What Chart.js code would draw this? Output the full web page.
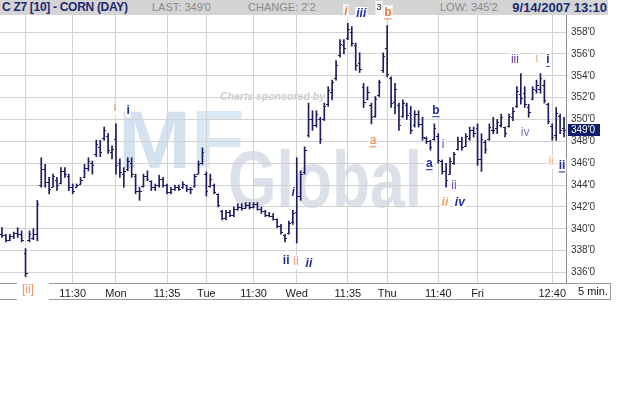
<!DOCTYPE html>
<html>
<head>
<meta charset="utf-8">
<title>C Z7 [10] - CORN (DAY)</title>
<script src="https://cdn.jsdelivr.net/npm/chart.js@4.4.1/dist/chart.umd.min.js"></script>
<style>
    body { margin: 0; width: 619px; height: 403px; background: #fff; position: relative; overflow: hidden; font-family: "Liberation Sans", Arial, sans-serif; }
    #head { position: absolute; left: 0; top: 0; width: 608px; height: 15px; background: #d4d4d4; }
    #head span { position: absolute; top: 0; line-height: 15px; white-space: nowrap; }
    #head .title { left: 2px; font-weight: bold; font-size: 12px; color: #1b2a72; letter-spacing: -0.3px; }
    #head .stat { font-size: 11px; color: #8a8a8a; }
    #head .stamp { right: 1px; font-weight: bold; font-size: 13px; color: #1b2a72; }
    #chart { position: absolute; left: 0; top: 0; z-index: 1; }
</style>
</head>
<body>
<div id="head">
    <span class="title">C Z7 [10] - CORN (DAY)</span>
    <span class="stat" style="left:152px">LAST: 349'0</span>
    <span class="stat" style="left:248px">CHANGE: 2'2</span>
    <span class="stat" style="left:440px">LOW: 345'2</span>
    <span class="stamp">9/14/2007 13:10</span>
</div>
<canvas id="chart" width="619" height="403"></canvas>
<script>
// 10 minute bars, Thu 6 Sep (last bars) to Fri 14 Sep 2007
const opens = [
    339.5, 339.4, 339.0, 339.3, 339.6, 339.5, 337.8, 339.0, 339.2, 339.5,
    344.0, 345.5, 344.3, 343.8, 344.5, 344.2, 345.3, 344.8, 343.8, 343.8,
    344.1, 344.7, 345.6, 346.0, 346.8, 347.5, 348.3, 348.5, 347.0, 348.2,
    346.0, 345.0, 345.5, 346.0, 344.8, 343.5, 343.9, 344.8, 344.4, 343.8,
    344.0, 344.6, 344.0, 343.4, 343.6, 343.8, 343.8, 344.0, 343.6, 343.9,
    345.0, 346.0, 345.0, 343.9, 344.0, 343.2, 341.6, 341.0, 341.5, 341.3,
    341.8, 342.0, 341.9, 342.2, 342.0, 342.3, 341.8, 341.6, 341.3, 341.2,
    340.9, 340.3, 339.4, 339.6, 340.6, 341.5, 343.0, 345.2, 348.6, 350.0,
    349.5, 350.0, 350.0, 351.4, 352.5, 353.8, 355.9, 356.8, 357.5, 358.0,
    356.8, 355.2, 353.0, 351.9, 351.3, 350.3, 352.2, 354.5, 356.5, 353.8,
    351.6, 351.3, 350.3, 351.3, 350.6, 349.5, 350.5, 349.6, 348.3, 348.0,
    348.2, 348.5, 346.2, 345.3, 345.0, 346.0, 347.3, 348.0, 347.6, 348.3,
    349.0, 349.2, 346.4, 347.9, 348.2, 349.0, 349.2, 349.5, 349.3, 349.4,
    350.2, 351.2, 352.3, 352.4, 351.1, 351.9, 352.7, 352.8, 353.2, 351.4,
    349.4, 348.6, 350.3, 349.2
];
const highs = [
    340.1, 339.5, 339.5, 339.7, 340.1, 339.8, 338.2, 339.8, 340.0, 342.6,
    346.5, 345.9, 344.7, 345.0, 344.7, 345.6, 345.6, 345.0, 344.1, 344.1,
    344.7, 345.9, 346.5, 346.2, 348.1, 348.1, 349.3, 348.7, 347.6, 349.6,
    346.4, 345.6, 346.5, 346.5, 345.0, 343.8, 345.0, 345.3, 344.4, 344.1,
    344.9, 344.7, 344.1, 343.8, 344.0, 344.0, 344.3, 344.0, 343.8, 345.0,
    346.2, 347.4, 345.2, 345.0, 344.1, 343.2, 341.7, 341.7, 341.7, 342.0,
    342.3, 342.3, 342.4, 342.4, 342.4, 342.4, 342.0, 341.7, 341.5, 341.4,
    340.9, 340.4, 339.5, 340.7, 341.7, 346.5, 345.3, 347.5, 351.5, 350.8,
    350.8, 350.2, 351.5, 353.0, 353.6, 355.4, 357.3, 357.3, 358.8, 358.5,
    357.0, 356.1, 353.3, 353.0, 351.5, 352.1, 353.6, 356.1, 358.6, 353.9,
    353.3, 351.5, 351.8, 351.5, 351.2, 350.8, 350.8, 350.2, 348.4, 348.1,
    349.6, 348.7, 346.3, 346.0, 346.5, 347.0, 348.4, 348.4, 348.7, 349.3,
    349.3, 349.6, 348.7, 348.1, 349.6, 350.2, 350.0, 350.5, 349.3, 350.5,
    351.1, 353.0, 354.2, 353.0, 351.4, 353.0, 353.6, 354.2, 353.6, 351.5,
    349.6, 351.1, 350.5, 350.2
];
const lows = [
    339.2, 338.8, 338.9, 339.1, 339.2, 338.8, 335.6, 338.8, 339.0, 338.9,
    343.8, 343.8, 343.2, 343.8, 343.5, 344.1, 344.7, 343.5, 343.2, 343.8,
    344.1, 344.7, 345.3, 345.0, 346.6, 346.6, 348.1, 346.9, 346.4, 345.0,
    344.7, 343.8, 345.3, 344.7, 343.2, 342.6, 343.8, 344.4, 343.5, 343.5,
    343.8, 343.8, 343.2, 343.2, 343.5, 343.5, 343.7, 343.4, 343.2, 343.8,
    345.0, 345.9, 343.0, 343.8, 343.2, 342.0, 340.8, 340.8, 341.1, 341.1,
    341.7, 341.7, 341.9, 341.8, 341.9, 341.7, 341.4, 341.1, 341.1, 340.8,
    340.1, 339.5, 338.8, 339.5, 340.4, 338.7, 342.6, 345.0, 348.4, 349.0,
    349.3, 347.8, 349.9, 351.2, 351.8, 353.6, 355.7, 356.0, 357.3, 356.7,
    354.5, 354.3, 351.1, 351.8, 349.6, 350.2, 352.1, 354.3, 353.9, 351.1,
    350.5, 349.0, 350.2, 350.0, 348.7, 349.3, 349.3, 348.1, 347.8, 347.2,
    348.1, 346.0, 345.0, 343.8, 345.0, 345.9, 347.2, 347.2, 347.5, 348.1,
    348.4, 345.8, 345.25, 346.9, 348.1, 348.7, 348.7, 349.3, 348.4, 349.3,
    349.9, 351.1, 351.4, 351.1, 350.2, 351.8, 352.4, 352.4, 351.5, 349.6,
    348.1, 348.1, 348.7, 348.4
];
const closes = [
    339.4, 339.0, 339.3, 339.6, 339.5, 339.0, 336.0, 339.5, 339.5, 342.3,
    345.5, 344.3, 343.6, 344.8, 344.0, 345.3, 345.0, 343.8, 343.5, 344.0,
    344.5, 345.6, 346.2, 345.8, 347.8, 347.0, 349.0, 347.2, 347.3, 345.8,
    345.2, 345.3, 346.2, 345.0, 343.5, 343.5, 344.8, 344.6, 343.8, 344.0,
    344.6, 344.0, 343.4, 343.6, 343.8, 343.6, 344.1, 343.6, 343.6, 344.8,
    345.9, 347.0, 343.5, 344.6, 343.4, 342.2, 341.0, 341.5, 341.3, 341.8,
    342.0, 341.9, 342.2, 342.0, 342.3, 341.8, 341.6, 341.3, 341.2, 340.9,
    340.3, 339.7, 339.2, 340.5, 341.4, 343.0, 345.0, 347.2, 350.0, 349.5,
    350.5, 348.2, 351.2, 352.7, 353.4, 355.0, 356.9, 356.5, 358.3, 357.0,
    355.0, 354.6, 351.6, 352.5, 350.2, 351.9, 353.4, 355.8, 354.2, 351.5,
    352.8, 349.5, 351.5, 350.4, 349.0, 350.5, 349.6, 348.4, 348.0, 347.5,
    349.2, 346.3, 345.3, 344.5, 346.2, 346.8, 348.0, 347.5, 348.5, 349.0,
    348.8, 346.4, 348.2, 347.3, 349.3, 349.0, 349.8, 350.2, 348.8, 350.3,
    350.8, 352.6, 352.0, 351.4, 350.7, 352.8, 353.2, 353.8, 351.8, 349.9,
    348.4, 350.6, 349.0, 349.0
];
const barIndex = opens.map( ( o, i ) => i );
const lastPrice = 349.0;

// axis ticks
const xTickIdx = [6, 18, 29, 42, 52, 64, 75, 88, 98, 111, 121, 140];
const xTickText = ["", "11:30", "Mon", "11:35", "Tue", "11:30", "Wed", "11:35", "Thu", "11:40", "Fri", "12:40"];
const yTicks = [336, 338, 340, 342, 344, 346, 348, 350, 352, 354, 356, 358];

// wave count labels, anchored at bar index / price
const orange = "#ef7a3c", blue = "#1d2c9e", purple = "#7b3fae", lilac = "#8a6cc6", salmon = "#f2a489";
const waveNotes = [
    { k: 6.6, p: 334.45, t: "[ii]", c: "#f0946a", s: "", box: [-11, 20] },
    { k: 28.8, p: 351.05, t: "i", c: orange, s: "" },
    { k: 32.1, p: 350.8, t: "i", c: blue, s: "b" },
    { k: 72.3, p: 337.05, t: "ii", c: blue, s: "b" },
    { k: 74.8, p: 336.95, t: "ii", c: "#f4906a", s: "" },
    { k: 78.1, p: 336.85, t: "ii", c: blue, s: "bi" },
    { k: 74.1, p: 343.3, t: "i", c: blue, s: "bi" },
    { k: 94.4, p: 348.1, t: "a", c: orange, s: "u" },
    { k: 87.5, p: 359.9, t: "i", c: orange, s: "bi" },
    { k: 91.4, p: 359.65, t: "iii", c: blue, s: "bi" },
    { k: 95.9, p: 360.2, t: "3", c: "#222", s: "", size: 9 },
    { k: 98.2, p: 359.8, t: "b", c: orange, s: "bu" },
    { k: 110.4, p: 350.85, t: "b", c: blue, s: "bu" },
    { k: 108.7, p: 346.0, t: "a", c: blue, s: "bu" },
    { k: 112.2, p: 347.65, t: "i", c: purple, s: "" },
    { k: 115.0, p: 343.9, t: "ii", c: purple, s: "" },
    { k: 112.7, p: 342.35, t: "ii", c: "#f0a070", s: "bi" },
    { k: 116.5, p: 342.35, t: "iv", c: blue, s: "bi" },
    { k: 130.5, p: 355.45, t: "iii", c: "#6a3aa0", s: "" },
    { k: 136.1, p: 355.55, t: "i", c: salmon, s: "" },
    { k: 138.9, p: 355.45, t: "i", c: blue, s: "bu" },
    { k: 133.1, p: 348.75, t: "iv", c: lilac, s: "" },
    { k: 139.7, p: 346.1, t: "ii", c: salmon, s: "" },
    { k: 142.5, p: 345.8, t: "ii", c: blue, s: "bu" }
];

const family = '"Liberation Sans", Arial, sans-serif';
const barColor = "#1c1c5e";
const gridColor = "#d2d2d2";

// sponsor watermark behind the grid
const watermark = {
    id: "watermark",
    beforeDraw( chart ) {
        const ctx = chart.ctx;
        ctx.save();
        ctx.textBaseline = "alphabetic";
        ctx.font = "bold 82px " + family;
        ctx.fillStyle = "#d4e1ee";
        ctx.save();
        ctx.translate( 118, 168 );
        ctx.scale( 1.07, 1 );
        ctx.fillText( "M", 0, 0 );
        ctx.fillStyle = "#d9e8f3";
        ctx.fillText( "F", ctx.measureText( "M" ).width, 0 );
        ctx.restore();
        ctx.font = "bold 80px " + family;
        ctx.fillStyle = "#dbe0e9";
        ctx.save();
        ctx.translate( 228, 207 );
        ctx.scale( 0.78, 1 );
        ctx.fillText( "Global", 0, 0 );
        ctx.restore();
        ctx.font = "italic bold 10.5px " + family;
        ctx.fillStyle = "#cbcbcb";
        ctx.fillText( "Charts sponsored by", 220, 100 );
        ctx.restore();
    }
};

// open / close ticks of each bar
const ohlcTicks = {
    id: "ohlcTicks",
    afterDatasetsDraw( chart ) {
        const { ctx, scales: { x, y } } = chart;
        ctx.save();
        ctx.strokeStyle = barColor;
        ctx.lineWidth = 1;
        ctx.beginPath();
        opens.forEach( ( o, i ) => {
            const px = Math.round( x.getPixelForValue( i ) );
            const yo = Math.round( y.getPixelForValue( o ) ) + 0.5;
            const yc = Math.round( y.getPixelForValue( closes[i] ) ) + 0.5;
            ctx.moveTo( px - 2, yo );
            ctx.lineTo( px, yo );
            ctx.moveTo( px, yc );
            ctx.lineTo( px + 2, yc );
        } );
        ctx.stroke();
        ctx.restore();
    }
};

// bottom frame, interval label and last price marker
const frame = {
    id: "frame",
    afterDraw( chart ) {
        const { ctx, chartArea: area, scales: { y } } = chart;
        ctx.save();
        ctx.strokeStyle = "#9a9a9a";
        ctx.lineWidth = 1;
        ctx.beginPath();
        ctx.moveTo( area.right, area.bottom + 0.5 );
        ctx.lineTo( 610, area.bottom + 0.5 );
        ctx.moveTo( 0, area.bottom + 16.5 );
        ctx.lineTo( 610.5, area.bottom + 16.5 );
        ctx.moveTo( 610.5, area.bottom );
        ctx.lineTo( 610.5, area.bottom + 17 );
        ctx.stroke();

        ctx.font = "11px " + family;
        ctx.fillStyle = "#1a1a1a";
        ctx.textBaseline = "middle";
        ctx.fillText( "5 min.", 578, area.bottom + 9 );

        const py = Math.round( y.getPixelForValue( lastPrice ) );
        ctx.fillStyle = "#0d1c6c";
        ctx.fillRect( area.right + 2, py - 6, 32, 12 );
        ctx.font = "10px " + family;
        ctx.fillStyle = "#fff";
        ctx.fillText( "349'0", area.right + 5, py );
        ctx.restore();
    }
};

// elliott wave labels
const notes = {
    id: "notes",
    afterDraw( chart ) {
        const { ctx, scales: { x, y } } = chart;
        ctx.save();
        ctx.textAlign = "center";
        ctx.textBaseline = "middle";
        waveNotes.forEach( n => {
            const px = x.getPixelForValue( n.k );
            const py = y.getPixelForValue( n.p );
            ctx.font = ( n.s.includes( "i" ) ? "italic " : "" ) + ( n.s.includes( "b" ) ? "bold " : "" ) + ( n.size || 12 ) + "px " + family;
            const w = ctx.measureText( n.t ).width;
            ctx.fillStyle = "#fff";
            if ( n.box ) {
                ctx.fillRect( px + n.box[0], py - 12, w + n.box[1], 26 );
            } else {
                ctx.fillRect( px - w / 2 - 1, py - 7, w + 2, 14 );
            }
            ctx.fillStyle = n.c;
            ctx.fillText( n.t, px, py );
            if ( n.s.includes( "u" ) ) {
                ctx.fillRect( px - w / 2, py + 6, w, 1 );
            }
        } );
        ctx.restore();
    }
};

new Chart( document.getElementById( "chart" ), {
    type: "bar",
    data: {
        labels: barIndex,
        datasets: [{
            data: lows.map( ( l, i ) => [l, highs[i]] ),
            backgroundColor: barColor,
            barThickness: 1,
            borderWidth: 0
        }]
    },
    options: {
        responsive: false,
        animation: false,
        events: [],
        layout: { padding: { top: 15, left: 0, right: 9, bottom: 104 } },
        plugins: {
            legend: { display: false },
            tooltip: { enabled: false }
        },
        scales: {
            x: {
                grid: { color: gridColor, offset: false, drawTicks: false },
                border: { color: "#9a9a9a" },
                afterBuildTicks: s => { s.ticks = xTickIdx.map( v => ( { value: v } ) ); },
                afterFit: s => { s.height = 16; },
                ticks: {
                    autoSkip: false,
                    maxRotation: 0,
                    padding: 4,
                    color: "#1a1a1a",
                    font: { family: family, size: 11 },
                    callback: v => xTickText[xTickIdx.indexOf( v )]
                }
            },
            y: {
                position: "right",
                min: 335.04,
                max: 359.56,
                grid: { color: gridColor, drawTicks: false },
                border: { color: "#8a8a8a" },
                afterBuildTicks: s => { s.ticks = yTicks.map( v => ( { value: v } ) ); },
                afterFit: s => { s.width = 44; },
                ticks: {
                    padding: 5,
                    color: "#333",
                    font: { family: family, size: 10 },
                    callback: v => v + "'0"
                }
            }
        }
    },
    plugins: [watermark, ohlcTicks, frame, notes]
} );
</script>
</body>
</html>
